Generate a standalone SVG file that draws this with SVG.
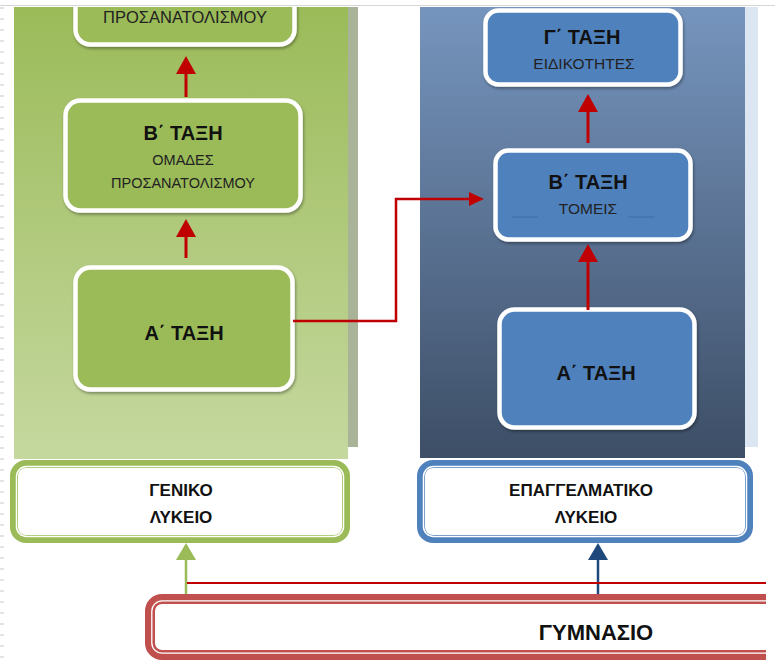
<svg xmlns="http://www.w3.org/2000/svg" width="775" height="661" viewBox="0 0 775 661">
<defs>
<linearGradient id="gGreen" x1="0" y1="0" x2="0" y2="1">
<stop offset="0" stop-color="#9bbb59"/>
<stop offset="1" stop-color="#c5d89f"/>
</linearGradient>
<linearGradient id="gBlue" x1="0" y1="0" x2="0" y2="1">
<stop offset="0" stop-color="#7695be"/>
<stop offset="1" stop-color="#3d4e66"/>
</linearGradient>
<filter id="sh" x="-10%" y="-10%" width="125%" height="130%">
<feDropShadow dx="1" dy="2" stdDeviation="1.5" flood-color="#000" flood-opacity="0.35"/>
</filter>
<marker id="ahRed" markerUnits="userSpaceOnUse" viewBox="0 0 18 20" markerWidth="18" markerHeight="20" refX="0" refY="10" orient="auto">
<path d="M0,0 L18,10 L0,20 Z" fill="#c00000"/>
</marker>
<marker id="ahRedS" markerUnits="userSpaceOnUse" viewBox="0 0 15 14" markerWidth="15" markerHeight="14" refX="0" refY="7" orient="auto">
<path d="M0,0 L15,7 L0,14 Z" fill="#c00000"/>
</marker>
<marker id="ahGreen" markerUnits="userSpaceOnUse" viewBox="0 0 17 20" markerWidth="17" markerHeight="20" refX="0" refY="10" orient="auto">
<path d="M0,0 L17,10 L0,20 Z" fill="#9bbb59"/>
</marker>
<marker id="ahBlue" markerUnits="userSpaceOnUse" viewBox="0 0 17 20" markerWidth="17" markerHeight="20" refX="0" refY="10" orient="auto">
<path d="M0,0 L17,10 L0,20 Z" fill="#1f497d"/>
</marker>
<style>
text{font-family:"Liberation Sans","DejaVu Sans",sans-serif;text-anchor:middle;fill:#111}
.t{font-weight:700;font-size:20px}
.s{font-weight:400;font-size:14.5px;fill:#222}
.sb{font-weight:400;font-size:15.5px;fill:#222}
.l{font-weight:700;font-size:17px}
.gn{fill:#9bbb59;stroke:#fff;stroke-width:4.5;filter:url(#sh)}
.bn{fill:#4f81bd;stroke:#fff;stroke-width:4.5;filter:url(#sh)}
.red{stroke:#c00000;stroke-width:3;fill:none}
</style>
</defs>
<rect width="775" height="661" fill="#fff"/>

<!-- left ruler marks -->
<path d="M0,8h4M0,19h4M0,30h4M0,41h4M0,52h4M0,63h4M0,74h4M0,85h4M0,96h4M0,107h4M0,118h4M0,129h4M0,140h4M0,151h4M0,162h4M0,173h4M0,184h4M0,195h4M0,206h4M0,217h4M0,228h4M0,239h4M0,250h4M0,261h4M0,272h4M0,283h4M0,294h4M0,305h4M0,316h4M0,327h4M0,338h4M0,349h4M0,360h4M0,371h4M0,382h4M0,393h4M0,404h4M0,415h4M0,426h4M0,437h4M0,448h4M0,459h4M0,470h4M0,481h4M0,492h4M0,503h4M0,514h4M0,525h4M0,536h4M0,547h4M0,558h4M0,569h4M0,580h4M0,591h4M0,602h4M0,613h4M0,624h4M0,635h4M0,646h4M0,657h4" stroke="#c8c8c8" stroke-width="1"/>

<!-- panels -->
<g id="panel-general">
<rect x="348" y="7" width="10" height="440" fill="#a9b398"/>
<rect x="14" y="7" width="334" height="452" fill="url(#gGreen)"/>
</g>
<g id="panel-vocational">
<rect x="745" y="7" width="13" height="440" fill="#dce6f2"/>
<rect x="420" y="7" width="325" height="451" fill="url(#gBlue)"/>
</g>

<!-- green nodes -->
<g id="node-g-c">
<rect x="75.5" y="-20" width="219" height="64.5" rx="15" class="gn"/>
<text x="185" y="23" class="s" style="font-size:16.5px">ΠΡΟΣΑΝΑΤΟΛΙΣΜΟΥ</text>
</g>
<g id="node-g-b">
<rect x="65.5" y="100.5" width="235" height="110" rx="15" class="gn"/>
<text x="183" y="140" class="t">Β΄ ΤΑΞΗ</text>
<text x="183" y="165" class="s">ΟΜΑΔΕΣ</text>
<text x="183" y="188" class="s">ΠΡΟΣΑΝΑΤΟΛΙΣΜΟΥ</text>
</g>
<g id="node-g-a">
<rect x="75.5" y="267.5" width="217" height="122" rx="15" class="gn"/>
<text x="184" y="340" class="t">Α΄ ΤΑΞΗ</text>
</g>

<!-- blue nodes -->
<g id="node-v-c">
<rect x="485.5" y="10.5" width="195" height="74" rx="13" class="bn"/>
<text x="582" y="44" class="t">Γ΄ ΤΑΞΗ</text>
<text x="584" y="69" class="sb">ΕΙΔΙΚΟΤΗΤΕΣ</text>
</g>
<g id="node-v-b">
<rect x="495.5" y="150.5" width="195" height="89" rx="13" class="bn"/>
<text x="588" y="189" class="t">Β΄ ΤΑΞΗ</text>
<text x="588" y="214" class="sb">ΤΟΜΕΙΣ</text>
<path d="M512,217h26M628,217h27" stroke="#2f5688" stroke-width="0.8" opacity="0.6"/>
</g>
<g id="node-v-a">
<rect x="499.5" y="309.5" width="195" height="118" rx="15" class="bn"/>
<text x="596" y="380" class="t">Α΄ ΤΑΞΗ</text>
</g>

<!-- top white strip and line -->
<rect x="0" y="0" width="775" height="7" fill="#fff"/>
<line x1="0" y1="5.5" x2="775" y2="5.5" stroke="#d6d6d6" stroke-width="1"/>

<!-- lyceum boxes -->
<g id="node-genl">
<rect x="14" y="464" width="332" height="75" rx="12" fill="#fff" stroke="#9bbb59" stroke-width="8"/>
<rect x="16.5" y="466.5" width="327" height="70" rx="10" fill="none" stroke="#fff" stroke-width="1.5"/>
<text x="181" y="496" class="l">ΓΕΝΙΚΟ</text>
<text x="181" y="523" class="l">ΛΥΚΕΙΟ</text>
</g>
<g id="node-epal">
<rect x="421" y="464" width="328" height="75" rx="12" fill="#fff" stroke="#4f81bd" stroke-width="8"/>
<rect x="423.5" y="466.5" width="323" height="70" rx="10" fill="none" stroke="#fff" stroke-width="1.5"/>
<text x="581" y="496" class="l">ΕΠΑΓΓΕΛΜΑΤΙΚΟ</text>
<text x="586" y="523" class="l">ΛΥΚΕΙΟ</text>
</g>
<g id="node-gym">
<rect x="150" y="599" width="700" height="56" rx="12" fill="#fff" stroke="#c0504d" stroke-width="10"/>
<rect x="151.8" y="600.8" width="696" height="52.4" rx="10.5" fill="none" stroke="#fff" stroke-width="1.3"/>
<rect x="766" y="570" width="9" height="91" fill="#fff"/>
<text x="596" y="640" class="t" style="font-size:22px">ΓΥΜΝΑΣΙΟ</text>
</g>

<!-- connectors -->
<g id="connectors">
<line x1="186" y1="97" x2="186" y2="74" class="red" marker-end="url(#ahRed)"/>
<line x1="186" y1="258" x2="186" y2="237" class="red" marker-end="url(#ahRed)"/>
<line x1="588" y1="143" x2="588" y2="112" class="red" marker-end="url(#ahRed)"/>
<line x1="588" y1="310" x2="588" y2="262" class="red" marker-end="url(#ahRed)"/>
<polyline points="293,321 396,321 396,199 469,199" stroke="#c00000" stroke-width="2.5" fill="none" marker-end="url(#ahRedS)"/>
<line x1="186" y1="594" x2="186" y2="560" stroke="#9bbb59" stroke-width="2.5" marker-end="url(#ahGreen)"/>
<line x1="598" y1="594" x2="598" y2="560" stroke="#1f497d" stroke-width="2.5" marker-end="url(#ahBlue)"/>
<line x1="187" y1="583" x2="766" y2="583" stroke="#c00000" stroke-width="2"/>
</g>
</svg>
